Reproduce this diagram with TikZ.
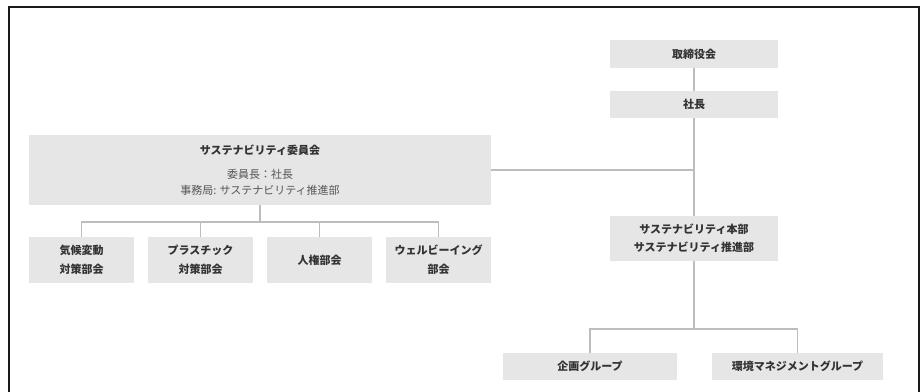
\documentclass[tikz,border=0pt]{standalone}
\usepackage{fontspec}
\setmainfont{Noto Sans CJK JP}
\definecolor{boxgray}{HTML}{E6E6E6}
\definecolor{linegray}{HTML}{BDBDBD}
\definecolor{textdark}{HTML}{333333}
\definecolor{textmid}{HTML}{555555}
\definecolor{framecol}{HTML}{1A1A1A}
\tikzset{
  orgbox/.style={fill=boxgray, inner sep=0pt, text=textdark, align=center,
    font=\bfseries\fontsize{11}{19}\selectfont},
  conn/.style={draw=linegray, line width=1.4pt},
  frame/.style={draw=framecol, line width=2pt}
}
\begin{document}
\begin{tikzpicture}[x=1pt,y=-1pt]
\useasboundingbox (0,0) rectangle (921,391);
\draw[frame] (9,392) -- (9,7) -- (919,7) -- (919,392);

% right column
\node[orgbox, minimum width=168pt, minimum height=28pt] (board) at (694,54) {取締役会};
\node[orgbox, minimum width=168pt, minimum height=27pt] (pres) at (694,104.5) {社長};
\node[orgbox, minimum width=168pt, minimum height=45pt, font=\bfseries\fontsize{11}{18}\selectfont] (hq) at (694,238.5) {サステナビリティ本部\\サステナビリティ推進部};
\node[orgbox, minimum width=174pt, minimum height=27pt] (plan) at (590,366.5) {企画グループ};
\node[orgbox, minimum width=171pt, minimum height=27pt] (env) at (797.5,366.5) {環境マネジメントグループ};

% committee
\node[orgbox, minimum width=462pt, minimum height=70pt, font=\fontsize{11}{16}\selectfont] (comm) at (260,170)
  {{\bfseries サステナビリティ委員会}\\[8pt]
   {\color{textmid}委員長：社長}\\
   {\color{textmid}事務局: サステナビリティ推進部}};

% sub committees
\node[orgbox, minimum width=105pt, minimum height=46pt] (s1) at (81.5,260) {気候変動\\対策部会};
\node[orgbox, minimum width=105pt, minimum height=46pt] (s2) at (200.5,260) {プラスチック\\対策部会};
\node[orgbox, minimum width=105pt, minimum height=46pt] (s3) at (319.5,260) {人権部会};
\node[orgbox, minimum width=105pt, minimum height=46pt] (s4) at (438.5,260) {ウェルビーイング\\部会};

% connectors
\coordinate (cbus) at (260,222);
\coordinate (gbus) at (694,329);
\draw[conn] (board.south) -- (pres.north);
\draw[conn] (pres.south) -- (hq.north);
\draw[conn] (comm.east) -- (comm.east -| pres.south);
\draw[conn] (comm.south) -- (cbus);
\draw[conn] (s1.north) -- (s1.north |- cbus) -- (s4.north |- cbus) -- (s4.north);
\draw[conn] (s2.north) -- (s2.north |- cbus);
\draw[conn] (s3.north) -- (s3.north |- cbus);
\draw[conn] (hq.south) -- (gbus);
\draw[conn] (plan.north) -- (plan.north |- gbus) -- (env.north |- gbus) -- (env.north);
\end{tikzpicture}
\end{document}
